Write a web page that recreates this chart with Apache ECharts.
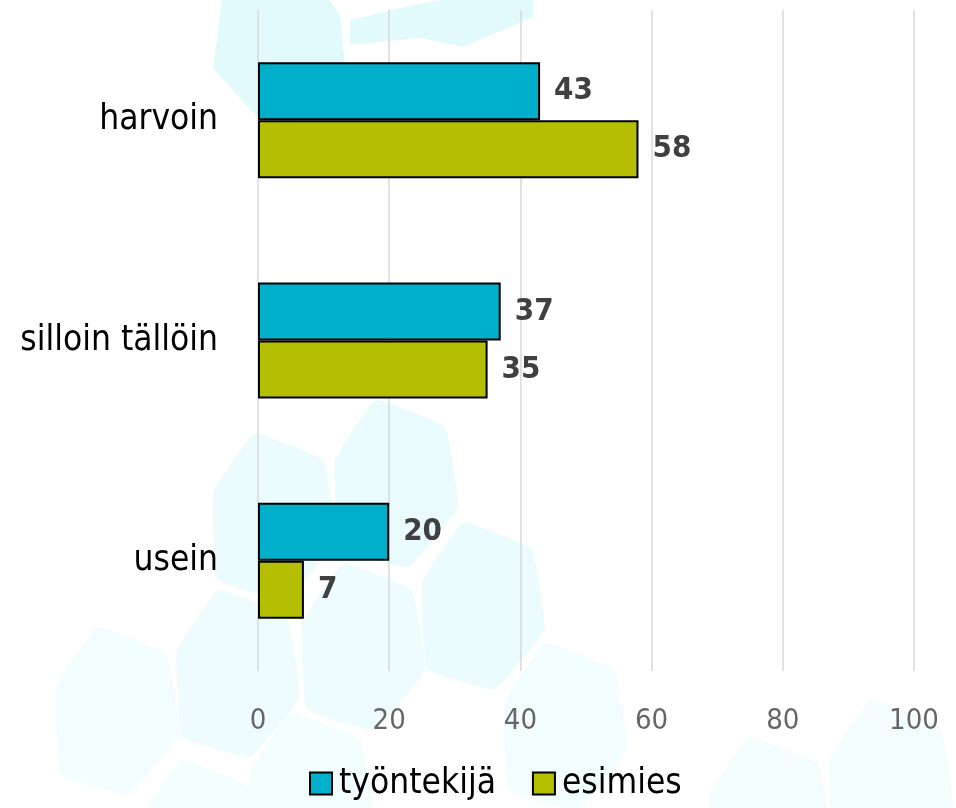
<!DOCTYPE html>
<html>
<head>
<meta charset="utf-8">
<script src="https://cdn.jsdelivr.net/npm/echarts@6/dist/echarts.min.js"></script>
<style>
html,body{margin:0;padding:0;background:#fff;}
#chart{width:956px;height:808px;}
</style>
</head>
<body>
<div id="chart"></div>
<script>
var categories = ['harvoin', 'silloin tällöin', 'usein'];
var seriesNames = ['työntekijä', 'esimies'];
var tyontekija = [43, 37, 20];
var esimies = [58, 35, 7];
var xTicks = [0, 20, 40, 60, 80, 100];

var FONT = "'DejaVu Sans Condensed', 'Liberation Sans Narrow', 'Open Sans', sans-serif";
var COLORS = ['#00afc9', '#b3bf00'];

// decorative background hexagons
var tpl = [[41,0],[110,27],[123,107],[73,167],[5,147],[0,60]];
function hexAt(x, y, fill) {
  return {
    type: 'polygon', silent: true, z: -100,
    shape: { points: tpl.map(function (p) { return [p[0] + x, p[1] + y]; }), smooth: 0.08 },
    style: { fill: fill }
  };
}
var bg = [
  { type: 'polygon', silent: true, z: -100,
    shape: { points: [[222,0],[330,0],[340,15],[346,75],[295,125],[255,115],[213,68]] },
    style: { fill: '#e3fafd' } },
  { type: 'polygon', silent: true, z: -100,
    shape: { points: [[350,20],[413,5],[440,0],[533,0],[533,17],[463,47],[420,38],[350,45]] },
    style: { fill: '#e3fafd' } },
  hexAt(213, 433, '#ecfbfd'),
  hexAt(335, 400, '#eafbfd'),
  hexAt(422, 522, '#ecfbfd'),
  hexAt(302, 563, '#eefcfe'),
  hexAt(177, 590, '#effcfe'),
  hexAt(56, 627, '#f1fdfe'),
  hexAt(504, 643, '#f1fdfe'),
  hexAt(708, 737, '#f4fdfe'),
  hexAt(830, 700, '#f4fdfe'),
  hexAt(250, 713, '#f2fdfe'),
  hexAt(140, 760, '#f3fdfe')
];

var chart = echarts.init(document.getElementById('chart'));
chart.setOption({
  backgroundColor: '#ffffff',
  animation: false,
  graphic: bg,
  color: COLORS,
  grid: { left: 258, right: 42, top: 10, bottom: 137, containLabel: false },
  legend: {
    bottom: 2,
    left: 304,
    itemWidth: 22,
    itemHeight: 22,
    itemGap: 36,
    icon: 'rect',
    textStyle: { fontFamily: FONT, fontSize: 35, color: '#000', padding: [0, 0, 0, 2] },
    itemStyle: { borderColor: '#000', borderWidth: 2 },
    data: seriesNames
  },
  xAxis: {
    type: 'value',
    min: 0, max: 100, interval: 20,
    axisLine: { show: false },
    axisTick: { show: false },
    splitLine: { show: true, lineStyle: { color: '#d9d9d9', width: 1.5 } },
    axisLabel: {
      margin: 36,
      fontFamily: FONT, fontSize: 29, color: '#666666',
      formatter: function (v) { return xTicks.indexOf(v) >= 0 ? String(v) : ''; }
    }
  },
  yAxis: {
    type: 'category',
    inverse: true,
    data: categories,
    axisLine: { show: false },
    axisTick: { show: false },
    axisLabel: { margin: 40, fontFamily: FONT, fontSize: 35, color: '#000' }
  },
  series: [
    {
      name: seriesNames[0], type: 'bar', data: tyontekija,
      barWidth: 58, barGap: '0%',
      itemStyle: { color: COLORS[0], borderColor: '#000', borderWidth: 2 },
      label: { show: true, position: 'right', distance: 14, fontFamily: FONT, fontSize: 31, fontWeight: 'bold', color: '#404040' }
    },
    {
      name: seriesNames[1], type: 'bar', data: esimies,
      barWidth: 58, barGap: '0%',
      itemStyle: { color: COLORS[1], borderColor: '#000', borderWidth: 2 },
      label: { show: true, position: 'right', distance: 14, fontFamily: FONT, fontSize: 31, fontWeight: 'bold', color: '#404040' }
    }
  ]
});
</script>
</body>
</html>
